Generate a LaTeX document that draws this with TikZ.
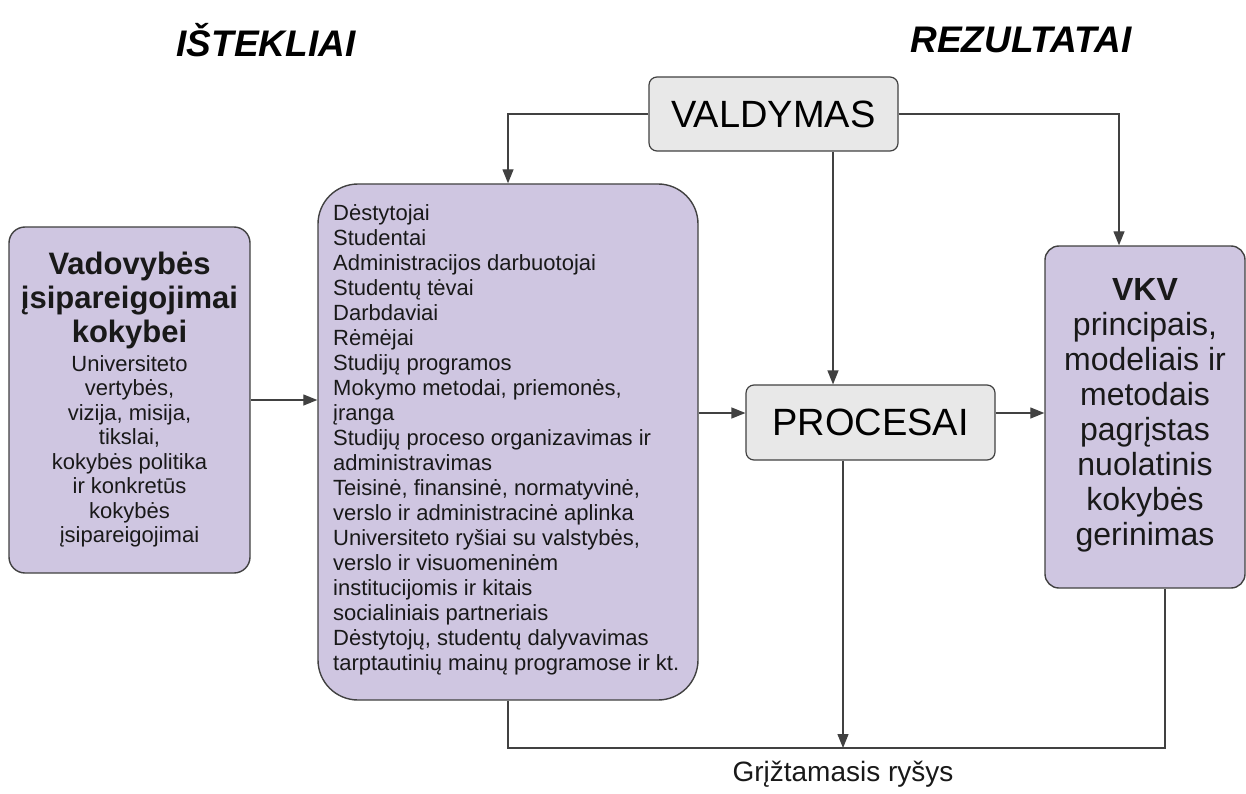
\documentclass[tikz,border=0pt]{standalone}
\usepackage{fontspec}
\setmainfont{Liberation Sans}
\usetikzlibrary{arrows.meta,positioning}
\definecolor{boxpurple}{RGB}{207,198,225}
\definecolor{boxgray}{RGB}{232,232,232}
\definecolor{edgegray}{RGB}{65,65,65}
\tikzset{
  purplebox/.style={draw=edgegray,line width=1.4pt,fill=boxpurple,inner sep=0pt},
  graybox/.style={draw=edgegray,line width=1.2pt,fill=boxgray,rounded corners=8pt,inner sep=0pt,
    font=\fontsize{38}{40}\selectfont},
  link/.style={draw=edgegray,line width=1.3pt},
  arr/.style={link,-{Triangle[length=14pt,width=11pt]}},
  heading/.style={font=\fontsize{37}{40}\selectfont\bfseries\itshape},
  boxtext/.style={inner sep=0pt,text=black!90}
}
\begin{document}
\begin{tikzpicture}[x=1pt,y=-1pt]
\useasboundingbox (0,0) rectangle (1246,794);
% headings
\node[heading] (istekliai) at (266,40) {IŠTEKLIAI};
\node[heading] (rezultatai) at (1021,40) {REZULTATAI};
% the boxes
\node[graybox,minimum width=249pt,minimum height=74pt] (valdymas) at (773.5,114) {VALDYMAS};
\node[purplebox,rounded corners=16pt,minimum width=241pt,minimum height=346pt] (vadovybe) at (129.5,400) {};
\node[purplebox,rounded corners=40pt,minimum width=380pt,minimum height=516pt] (resursai) at (508,442) {};
\node[graybox,minimum width=249pt,minimum height=75pt] (procesai) at (870.5,422.5) {PROCESAI};
\node[purplebox,rounded corners=14pt,minimum width=200pt,minimum height=342pt] (vkv) at (1145,417) {};
% texts in the boxes
\node[boxtext,anchor=north,align=center,font=\fontsize{31}{34}\selectfont\bfseries] (vadtitle) at (129.5,252)
  {Vadovybės\\įsipareigojimai\\kokybei};
\node[boxtext,anchor=north,align=center,font=\fontsize{22}{24.5}\selectfont] (vadtext) at (129.5,355)
  {Universiteto\\vertybės,\\vizija, misija,\\tikslai,\\kokybės politika\\ir konkretūs\\kokybės\\įsipareigojimai};
\node[boxtext,anchor=north west,align=left,font=\fontsize{22}{25}\selectfont] (sarasas) at (333,204)
  {Dėstytojai\\Studentai\\Administracijos darbuotojai\\Studentų tėvai\\Darbdaviai\\Rėmėjai\\
   Studijų programos\\Mokymo metodai, priemonės,\\įranga\\Studijų proceso organizavimas ir\\
   administravimas\\Teisinė, finansinė, normatyvinė,\\verslo ir administracinė aplinka\\
   Universiteto ryšiai su valstybės,\\verslo ir visuomeninėm\\institucijomis ir kitais\\
   socialiniais partneriais\\Dėstytojų, studentų dalyvavimas\\tarptautinių mainų programose ir kt.};
\node[boxtext,anchor=north,align=center,font=\fontsize{32}{35}\selectfont] (vkvtext) at (1145,278)
  {\textbf{VKV}\\principais,\\modeliais ir\\metodais\\pagrįstas\\nuolatinis\\kokybės\\gerinimas};
% connectors
\coordinate (lygis) at (0,413);
\coordinate (atgal) at (0,748);
\draw[arr] (valdymas.west) -| (resursai.north);
\draw[arr] ([xshift=59.5pt]valdymas.south) -- ([xshift=59.5pt]valdymas.south |- procesai.north);
\draw[arr] (valdymas.east) -| ([xshift=-26pt]vkv.north);
\draw[arr] (vadovybe.east) -- (vadovybe.east -| resursai.west);
\draw[arr] (resursai.east |- lygis) -- (procesai.west |- lygis);
\draw[arr] (procesai.east |- lygis) -- (vkv.west |- lygis);
% feedback loop
\draw[link] (resursai.south) -- (resursai.south |- atgal) -- ([xshift=20pt]vkv.south |- atgal) -- ([xshift=20pt]vkv.south);
\draw[arr] ([xshift=-27.5pt]procesai.south) -- ([xshift=-27.5pt]procesai.south |- atgal);
\node[boxtext,font=\fontsize{28}{30}\selectfont] (grizimas) at (843,774) {Grįžtamasis ryšys};
\end{tikzpicture}
\end{document}
